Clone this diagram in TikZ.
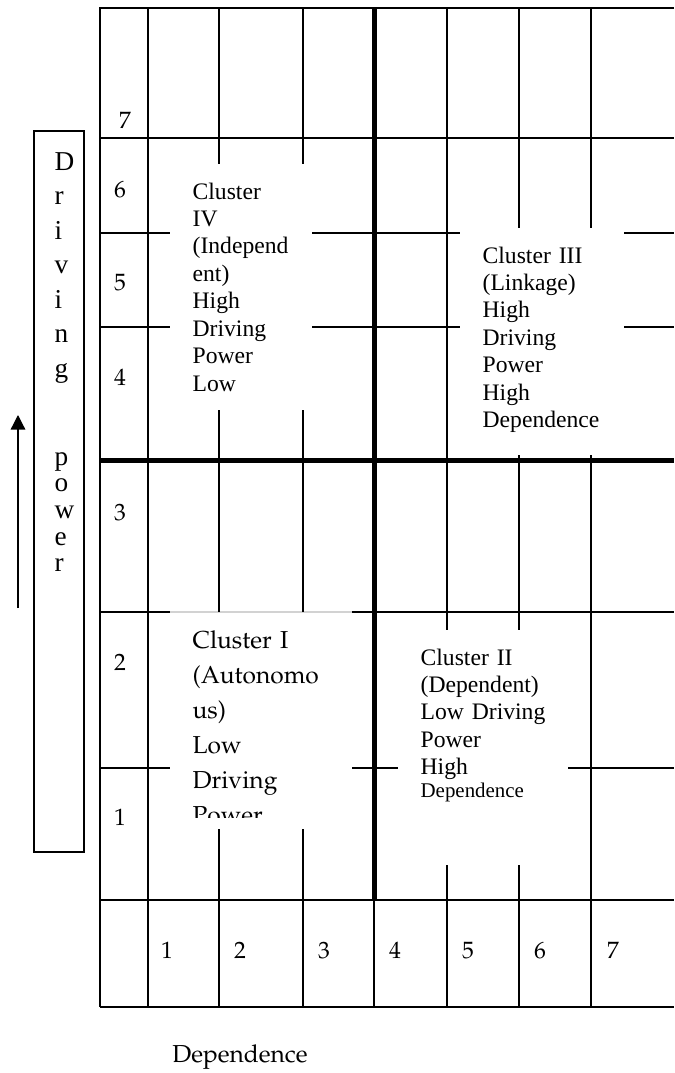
\documentclass[tikz,border=0pt]{standalone}
\usepackage{fontspec}
\setmainfont{Liberation Serif}
\usetikzlibrary{arrows.meta}
\newcommand{\palfont}{\fontencoding{OT1}\fontfamily{ppl}\selectfont}

\begin{document}
\begin{tikzpicture}[x=0.55pt, y=-0.55pt, line width=0.7pt,
	heavy/.style={line width=2.75pt},
	cell/.style={inner sep=0pt, anchor=base, font=\palfont\fontsize{13}{15}\selectfont},
	cluster/.style={inner sep=0pt, anchor=base west, align=left, text width=90pt, font=\fontsize{13}{15.1}\selectfont},
	letters/.style={inner sep=0pt, anchor=base west, align=left, text width=20pt}]
		\useasboundingbox (0,0) rectangle (674,1073);

		% rows
		\draw (674,8) -- (100,8) -- (100,1007);
		\draw (100,138) -- (674,138);
		\draw (100,233) -- (170,233);
		\draw (312,233) -- (460,233);
		\draw (624,233) -- (674,233);
		\draw (100,327) -- (170,327);
		\draw (312,327) -- (460,327);
		\draw (624,327) -- (674,327);
		\draw (100,612) -- (170,612);
		\draw[gray!35] (170,612) -- (352,612);
		\draw (352,612) -- (674,612);
		\draw (100,768) -- (170,768);
		\draw (352,768) -- (398,768);
		\draw (568,768) -- (674,768);
		\draw (100,900) -- (674,900);
		\draw[line width=1pt] (100,1007) -- (519,1007);
		\draw (519,1007) -- (674,1007);

		% columns
		\draw (148,8) -- (148,1007);
		\draw (219,8) -- (219,164);
		\draw (219,410) -- (219,612);
		\draw (219,829) -- (219,1007);
		\draw (303,8) -- (303,164);
		\draw (303,410) -- (303,612);
		\draw (303,829) -- (303,1007);
		\draw (374,900) -- (374,1007);
		\draw (447,8) -- (447,630);
		\draw (447,865) -- (447,1007);
		\draw (519,8) -- (519,228);
		\draw (519,455) -- (519,630);
		\draw (519,865) -- (519,1007);
		\draw (591,8) -- (591,228);
		\draw (591,455) -- (591,1007);

		\draw[heavy] (374,8) -- (374,900);
		\draw[heavy] (100,460) -- (674,460);

		% driving power axis
		\draw (34,131) rectangle (84,852);
		\node[letters, font=\fontsize{15}{19}\selectfont] (drivingword) at (54,170) {D\\r\\i\\v\\i\\n\\g};
		\node[letters, font=\fontsize{15}{14.7}\selectfont] (powerword) at (54,465) {p\\o\\w\\e\\r};
		\coordinate (arrowfoot) at (18,608);
		\coordinate (arrowtip) at (18,415);
		\draw[-{Triangle[length=8pt,width=8pt]}] (arrowfoot) -- (arrowtip);

		% clusters
		\node[cluster] (clusterfour) at (192,199) {Cluster\\IV\\(Independ\\ent)\\High\\Driving\\Power\\Low};
		\node[cluster] (clusterthree) at (482,263) {Cluster III\\(Linkage)\\High\\Driving\\Power\\High\\Dependence};
		\node[cluster] (clustertwo) at (420,665) {Cluster II\\(Dependent)\\Low Driving\\Power\\High\\[-2.5pt]{\fontsize{11.5}{15.1}\selectfont Dependence}};
		\begin{scope}
			\clip (170,612) rectangle (352,817);
			\node[cluster, text width=110pt, font=\palfont\fontsize{13.5}{19.25}\selectfont] (clusterone) at (192,648) {Cluster I\\(Autonomo\\us)\\Low\\Driving\\Power};
		\end{scope}

		% scale labels
		\node[cell] (rowseven) at (125,128) {7};
		\node[cell] (rowsix) at (120,197) {6};
		\node[cell] (rowfive) at (120,290) {5};
		\node[cell] (rowfour) at (120,385) {4};
		\node[cell] (rowthree) at (120,520) {3};
		\node[cell] (rowtwo) at (120,670) {2};
		\node[cell] (rowone) at (120,825) {1};

		\node[cell] (colone) at (167,958) {1};
		\node[cell] (coltwo) at (240,958) {2};
		\node[cell] (colthree) at (324,958) {3};
		\node[cell] (colfour) at (395,958) {4};
		\node[cell] (colfive) at (468,958) {5};
		\node[cell] (colsix) at (540,958) {6};
		\node[cell] (colseven) at (613,958) {7};

		\node[cell, font=\palfont\fontsize{13.5}{16}\selectfont] (depaxis) at (240,1062) {Dependence};

\end{tikzpicture}
\end{document}
